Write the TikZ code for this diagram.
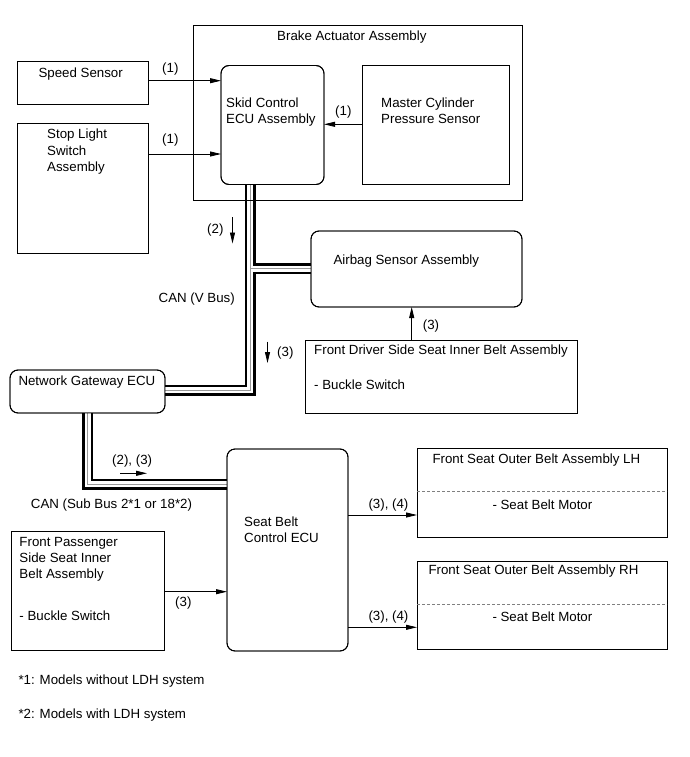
\documentclass[tikz,border=0pt]{standalone}
\usepackage{fontspec}
\setmainfont{Liberation Sans}
\usetikzlibrary{arrows.meta}
\begin{document}
\begin{tikzpicture}[x=1pt,y=-1pt,
  box/.style={draw=black,line width=0.9pt,inner sep=0pt,outer sep=0pt},
  rbox/.style={box,rounded corners=8pt},
  lbl/.style={anchor=west,inner sep=0pt,text height=9.4pt,text depth=0pt,font=\fontsize{13.3}{15}\selectfont},
  arr/.style={line width=0.8pt,-{Triangle[length=11pt,width=5pt]}},
  busA/.style={line width=11pt,black,line join=miter},
  busB/.style={line width=6pt,white,line join=miter},
  busC/.style={line width=0.9pt,gray!80,line join=miter},
  dline/.style={gray,line width=0.7pt,dash pattern=on 3pt off 2pt},
]
\useasboundingbox[fill=white] (0,0) rectangle (689,757);

% ---- boxes (positions) ----
\path (357.5,112.5) node[box,minimum width=329pt,minimum height=175pt] (brake) {};
\path (82.5,82.5) node[box,minimum width=131pt,minimum height=43pt] (speed) {};
\path (82.5,188) node[box,minimum width=131pt,minimum height=130pt] (stop) {};
\path (272.5,125) node[rbox,minimum width=103pt,minimum height=119pt] (skid) {};
\path (435.5,125) node[box,minimum width=147pt,minimum height=119pt] (master) {};
\path (416.5,269) node[rbox,minimum width=211pt,minimum height=76pt] (airbag) {};
\path (441.5,376.5) node[box,minimum width=272pt,minimum height=73pt] (driver) {};
\path (87.5,391.5) node[rbox,minimum width=155pt,minimum height=43pt] (gate) {};
\path (287.5,550) node[rbox,minimum width=121pt,minimum height=202pt] (seatecu) {};
\path (542,492.75) node[box,minimum width=250pt,minimum height=89.5pt] (lh) {};
\path (542,605.25) node[box,minimum width=250pt,minimum height=88.5pt] (rh) {};
\path (87.75,590.75) node[box,minimum width=153.5pt,minimum height=118.5pt] (pass) {};

% ---- bus coordinates ----
\coordinate (j1) at (250,390);
\coordinate (j2) at (250,268.5);
\coordinate (j3) at (87.5,484);

% ---- CAN buses ----
\foreach \st in {busA,busB,busC}{
  \draw[\st] (skid.south -| j1) -- (j1) -- (gate.east |- j1);
  \draw[\st] (j2) -- (airbag.west |- j2);
  \draw[\st] (gate.south -| j3) -- (j3) -- (seatecu.west |- j3);
}

% redraw box borders on top of bus ends
\draw[line width=0.9pt] (brake.south west) rectangle (brake.north east);
\draw[line width=0.9pt,rounded corners=8pt] (skid.south west) rectangle (skid.north east);
\draw[line width=0.9pt,rounded corners=8pt] (airbag.south west) rectangle (airbag.north east);
\draw[line width=0.9pt,rounded corners=8pt] (gate.south west) rectangle (gate.north east);
\draw[line width=0.9pt,rounded corners=8pt] (seatecu.south west) rectangle (seatecu.north east);

% ---- dashed dividers ----
\draw[dline] (lh.west |- 0,491.5) -- (lh.east |- 0,491.5);
\draw[dline] (rh.west |- 0,604) -- (rh.east |- 0,604);

% ---- arrows ----
\draw[arr] (speed.east |- 0,80.7) -- (skid.west |- 0,80.7);
\draw[arr] (stop.east |- 0,154) -- (skid.west |- 0,154);
\draw[arr] (master.west |- 0,124.3) -- (skid.east |- 0,124.3);
\draw[arr] (driver.north -| 411.7,0) -- (airbag.south -| 411.7,0);
\draw[arr] (seatecu.east |- 0,515) -- (lh.west |- 0,515);
\draw[arr] (seatecu.east |- 0,627.3) -- (rh.west |- 0,627.3);
\draw[arr] (pass.east |- 0,591.7) -- (seatecu.west |- 0,591.7);

\coordinate (a2s) at (232.5,217);
\coordinate (a2e) at (232.5,243.5);
\coordinate (a3s) at (267.5,341.5);
\coordinate (a3e) at (267.5,363);
\coordinate (a23s) at (120,473.3);
\coordinate (a23e) at (147,473.3);
\draw[arr] (a2s) -- (a2e);
\draw[arr] (a3s) -- (a3e);
\draw[arr] (a23s) -- (a23e);

% ---- texts ----
\node[lbl] (tbrake) at (277,35.5) {Brake Actuator Assembly};
\node[lbl] (tspeed) at (38.3,72.7) {Speed Sensor};
\node[lbl] (l1a) at (162,68) {(1)};
\node[lbl] (l1b) at (162,139) {(1)};
\node[lbl] (l1c) at (335,111) {(1)};
\node[lbl] (tstop1) at (47,134) {Stop Light};
\node[lbl] (tstop2) at (47,150.5) {Switch};
\node[lbl] (tstop3) at (47,167) {Assembly};
\node[lbl] (tskid1) at (226,103) {Skid Control};
\node[lbl] (tskid2) at (226,119) {ECU Assembly};
\node[lbl] (tmast1) at (381,103) {Master Cylinder};
\node[lbl] (tmast2) at (381,119) {Pressure Sensor};
\node[lbl] (l2) at (207,229) {(2)};
\node[lbl] (tcanv) at (158.5,297.5) {CAN (V Bus)};
\node[lbl] (tair) at (333.3,259.3) {Airbag Sensor Assembly};
\node[lbl] (l3a) at (277,351.5) {(3)};
\node[lbl] (l3b) at (422.7,325) {(3)};
\node[lbl] (tdrv1) at (314,350) {Front Driver Side Seat Inner Belt Assembly};
\node[lbl] (tdrv2) at (314,384.5) {- Buckle Switch};
\node[lbl] (tgate) at (18.3,380.5) {Network Gateway ECU};
\node[lbl] (l23) at (112,460) {(2), (3)};
\node[lbl] (tcansub) at (30.7,504) {CAN (Sub Bus 2*1 or 18*2)};
\node[lbl] (tsb1) at (244,521.7) {Seat Belt};
\node[lbl] (tsb2) at (244,537.7) {Control ECU};
\node[lbl] (tlh1) at (432.3,458.3) {Front Seat Outer Belt Assembly LH};
\node[lbl] (tlh2) at (492.3,505) {- Seat Belt Motor};
\node[lbl] (l34a) at (368.3,503.3) {(3), (4)};
\node[lbl] (trh1) at (428.3,570) {Front Seat Outer Belt Assembly RH};
\node[lbl] (trh2) at (492.3,616.7) {- Seat Belt Motor};
\node[lbl] (l34b) at (368.3,615.7) {(3), (4)};
\node[lbl] (tps1) at (19.3,541.7) {Front Passenger};
\node[lbl] (tps2) at (19.3,557.7) {Side Seat Inner};
\node[lbl] (tps3) at (19.3,573.7) {Belt Assembly};
\node[lbl] (tps4) at (19.3,616) {- Buckle Switch};
\node[lbl] (l3c) at (175,601.7) {(3)};
\node[lbl] (tfn1) at (18.3,679.3) {*1: Models without LDH system};
\node[lbl] (tfn2) at (18.3,714) {*2: Models with LDH system};
\end{tikzpicture}
\end{document}
